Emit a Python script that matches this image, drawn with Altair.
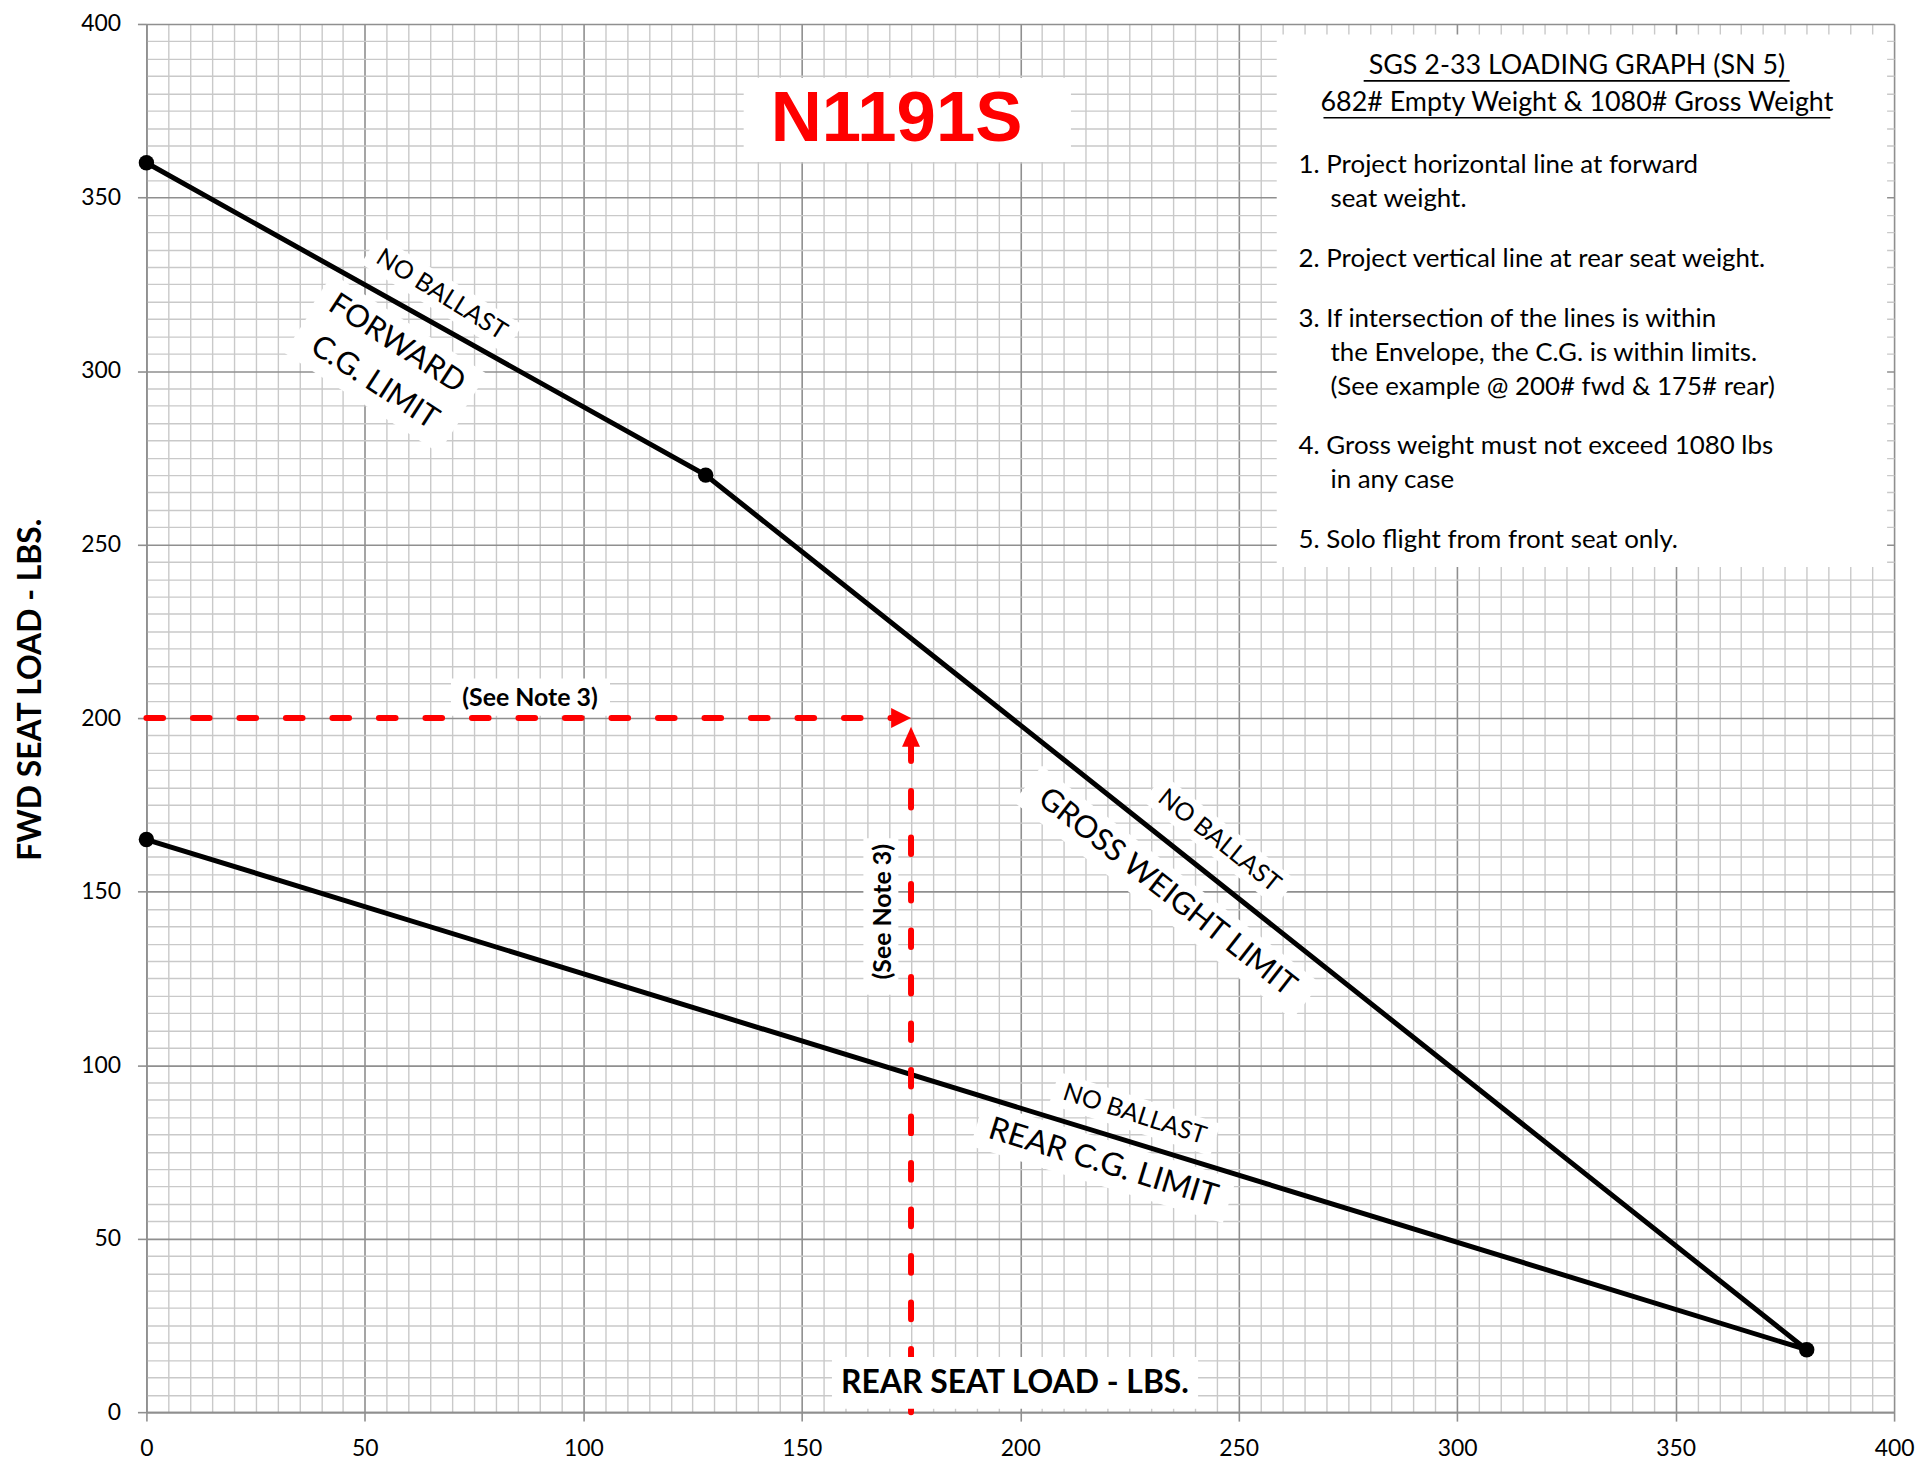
import altair as alt
import pandas as pd

# ---------------- chart values ----------------
env_rear = [0, 128, 380, 0]          # envelope vertices: rear seat load
env_fwd = [360, 270, 18, 165]        # envelope vertices: forward seat load

ex_rear = 175                        # worked example
ex_fwd = 200

axis_min, axis_max = 0, 400
major_step = 50
minor_step = 5

tail_no = "N1191S"
graph_title = "SGS 2-33 LOADING GRAPH (SN 5)"
graph_subtitle = "682# Empty Weight & 1080# Gross Weight"
notes = [
    ["1. Project horizontal line at forward", "seat weight."],
    ["2. Project vertical line at rear seat weight."],
    ["3. If intersection of the lines is within",
     "the Envelope, the C.G. is within limits.",
     "(See example @ 200# fwd & 175# rear)"],
    ["4. Gross weight must not exceed 1080 lbs", "in any case"],
    ["5. Solo flight from front seat only."],
]
x_title = "REAR SEAT LOAD - LBS."
y_title = "FWD SEAT LOAD - LBS."
see_note = "(See Note 3)"
limit_texts = ["NO BALLAST", "FORWARD", "C.G. LIMIT",
               "NO BALLAST", "GROSS WEIGHT LIMIT",
               "NO BALLAST", "REAR C.G. LIMIT"]

# ---------------- layout (annotation placement, data units) ----------------
W, H = 1755, 1394
PX, PY = W / (axis_max - axis_min), H / (axis_max - axis_min)

limit_pos = [  # x, y, angle, font size, box length px, box thickness px
    (67.6, 322.1, 32, 25, 170, 34),
    (57.3, 307.8, 33, 31, 185, 48),
    (52.2, 296.6, 33, 31, 185, 48),
    (245.6, 164.7, 38.6, 25, 170, 34),
    (233.6, 149.7, 38, 31, 355, 46),
    (226.2, 85.9, 17.8, 25, 170, 34),
    (219.0, 71.9, 17, 32, 265, 46),
]

font = "Lato"

# ---------------- scales / axes ----------------
xs = alt.Scale(domain=[axis_min, axis_max], nice=False, zero=False)
ys = alt.Scale(domain=[axis_min, axis_max], nice=False, zero=False)
test = f"datum.value % {major_step} === 0"


def cond(a, b):
    return {"condition": {"test": test, "value": a}, "value": b}


common_axis = dict(
    values=list(range(axis_min, axis_max + 1, minor_step)),
    grid=True,
    gridColor=cond("#8f8f8f", "#c9c9c9"),
    gridWidth=cond(1.6, 1.4),
    tickColor=cond("#8f8f8f", "transparent"),
    tickSize=9, tickWidth=1.6,
    domainColor="#8f8f8f", domainWidth=1.6,
    labelExpr=f"datum.value % {major_step} === 0 ? datum.label : ''",
    labelOverlap=False, labelFlush=False,
    labelFont=font, labelFontSize=23, labelColor="black",
)
xaxis = alt.Axis(title="", labelPadding=17, **common_axis)
yaxis = alt.Axis(title=y_title, titleFont=font, titleFontSize=32, titleFontWeight="bold",
                 titleColor="black", titleAngle=270, titleX=-116, titleY=668,
                 titleAlign="center", titleBaseline="middle",
                 labelPadding=17, **common_axis)

X = alt.X("x:Q", scale=xs, axis=xaxis)
Y = alt.Y("y:Q", scale=ys, axis=yaxis)

# ---------------- data frames ----------------
env_df = pd.DataFrame({"x": env_rear, "y": env_fwd, "o": list(range(len(env_rear)))})

box_df = pd.DataFrame([
    {"x": 258.7, "x2": 398.4, "y": 243.5, "y2": 397.0},   # instructions
    {"x": 136.7, "x2": 211.6, "y": 360.2, "y2": 384.5},   # tail number
    {"x": 69.7, "x2": 106.1, "y": 200.7, "y2": 211.4},    # see note (h)
    {"x": 164.1, "x2": 172.1, "y": 120.3, "y2": 165.4},   # see note (v)
])
axis_box_df = pd.DataFrame([{"x": 156.9, "x2": 240.7, "y": 1.0, "y2": 15.9}])

lab_rows = []
for t, (x, y, a, fs, L, T) in zip(limit_texts, limit_pos):
    h = T / L
    lab_rows.append({
        "text": t, "x": x, "y": y, "angle": a, "fs": fs,
        "shape": f"M-1,-{h:.4f}L1,-{h:.4f}L1,{h:.4f}L-1,{h:.4f}Z",
        "area": L * L,
    })
lab_df = pd.DataFrame(lab_rows)

arrow_len = 20
h_end = ex_rear - arrow_len / PX
v_tip = ex_fwd - 2.5
v_end = v_tip - arrow_len / PY
hline_df = pd.DataFrame([{"x": axis_min, "x2": h_end, "y": ex_fwd}])
vline_df = pd.DataFrame([{"x": ex_rear, "y": axis_min, "y2": v_end}])
arrow_df = pd.DataFrame([
    {"x": ex_rear, "y": ex_fwd, "shape": "M0,0L-1,-0.5L-1,0.5Z", "area": (2 * arrow_len) ** 2},
    {"x": ex_rear, "y": v_tip, "shape": "M0,0L-0.45,1L0.45,1Z", "area": (2 * arrow_len) ** 2},
])

note_x, indent_x, first_y, line_h, para_gap = 263.7, 271.0, 359.3, 9.8, 7.4
note_rows = []
yy = first_y
for p in notes:
    for i, line in enumerate(p):
        note_rows.append({"text": line, "x": note_x if i == 0 else indent_x, "y": yy})
        yy -= line_h
    yy -= para_gap
notes_df = pd.DataFrame(note_rows)

head_df = pd.DataFrame([
    {"text": graph_title, "x": 327.4, "y": 388.0},
    {"text": graph_subtitle, "x": 327.4, "y": 377.1},
])
uline_df = pd.DataFrame([
    {"x": 278.6, "x2": 376.1, "y": 383.6},
    {"x": 269.4, "x2": 385.4, "y": 373.0},
])

# ---------------- layers ----------------
base_boxes = alt.Chart(box_df).mark_rect(color="white", opacity=1).encode(
    x=X, x2="x2:Q", y=Y, y2="y2:Q")

label_boxes = alt.Chart(lab_df).mark_point(filled=True, color="white", fill="white",
                                           opacity=1, strokeWidth=0).encode(
    x=X, y=Y,
    shape=alt.Shape("shape:N", scale=None),
    size=alt.Size("area:Q", scale=None),
    angle=alt.Angle("angle:Q", scale=None))

env_line = alt.Chart(env_df).mark_line(color="black", strokeWidth=5).encode(
    x=X, y=Y, order="o:Q")
env_pts = alt.Chart(env_df).mark_circle(color="black", size=240, opacity=1).encode(x=X, y=Y)

red = "#ff0000"
dash = dict(color=red, strokeWidth=6, strokeCap="round", strokeDash=[16.7, 30])
hline = alt.Chart(hline_df).mark_rule(**dash).encode(x=X, x2="x2:Q", y=Y)
vline = alt.Chart(vline_df).mark_rule(**dash).encode(x=X, y=Y, y2="y2:Q")
arrows = alt.Chart(arrow_df).mark_point(filled=True, color=red, fill=red, opacity=1,
                                        strokeWidth=0).encode(
    x=X, y=Y, shape=alt.Shape("shape:N", scale=None), size=alt.Size("area:Q", scale=None))

labels = alt.Chart(lab_df).mark_text(font=font, color="black", align="center",
                                     baseline="middle").encode(
    x=X, y=Y, text="text:N",
    angle=alt.Angle("angle:Q", scale=None),
    size=alt.Size("fs:Q", scale=None))

tail = alt.Chart(pd.DataFrame([{"text": tail_no, "x": 171.7, "y": 372.3}])).mark_text(
    font="Liberation Sans", fontWeight="bold", fontSize=71, color=red,
    align="center", baseline="middle").encode(x=X, y=Y, text="text:N")

see_h = alt.Chart(pd.DataFrame([{"text": see_note, "x": 87.8, "y": 205.9}])).mark_text(
    font=font, fontWeight="bold", fontSize=25, color="black",
    align="center", baseline="middle").encode(x=X, y=Y, text="text:N")
see_v = alt.Chart(pd.DataFrame([{"text": see_note, "x": 168.5, "y": 144.2}])).mark_text(
    font=font, fontWeight="bold", fontSize=25, color="black", angle=270,
    align="center", baseline="middle").encode(x=X, y=Y, text="text:N")

heads = alt.Chart(head_df).mark_text(font=font, fontSize=27, color="black",
                                     align="center", baseline="middle").encode(
    x=X, y=Y, text="text:N")
ulines = alt.Chart(uline_df).mark_rule(color="black", strokeWidth=1.6).encode(
    x=X, x2="x2:Q", y=Y)
note_text = alt.Chart(notes_df).mark_text(font=font, fontSize=26, color="black",
                                          align="left", baseline="middle").encode(
    x=X, y=Y, text="text:N")

axis_box = alt.Chart(axis_box_df).mark_rect(color="white", opacity=1).encode(
    x=X, x2="x2:Q", y=Y, y2="y2:Q")
axis_lab = alt.Chart(pd.DataFrame([{"text": x_title, "x": 198.8, "y": 8.3}])).mark_text(
    font=font, fontWeight="bold", fontSize=32, color="black",
    align="center", baseline="middle").encode(x=X, y=Y, text="text:N")

chart = alt.layer(
    base_boxes, label_boxes, env_line, env_pts, hline, vline, arrows,
    labels, tail, see_h, see_v, heads, ulines, note_text, axis_box, axis_lab,
).properties(
    width=W, height=H,
    padding={"left": 139, "top": 13, "right": 21, "bottom": 46},
    autosize=alt.AutoSizeParams(type="none"),
    background="white",
).configure_view(strokeWidth=0)

chart.save("out.html", embed_options={"renderer": "svg", "actions": False})
